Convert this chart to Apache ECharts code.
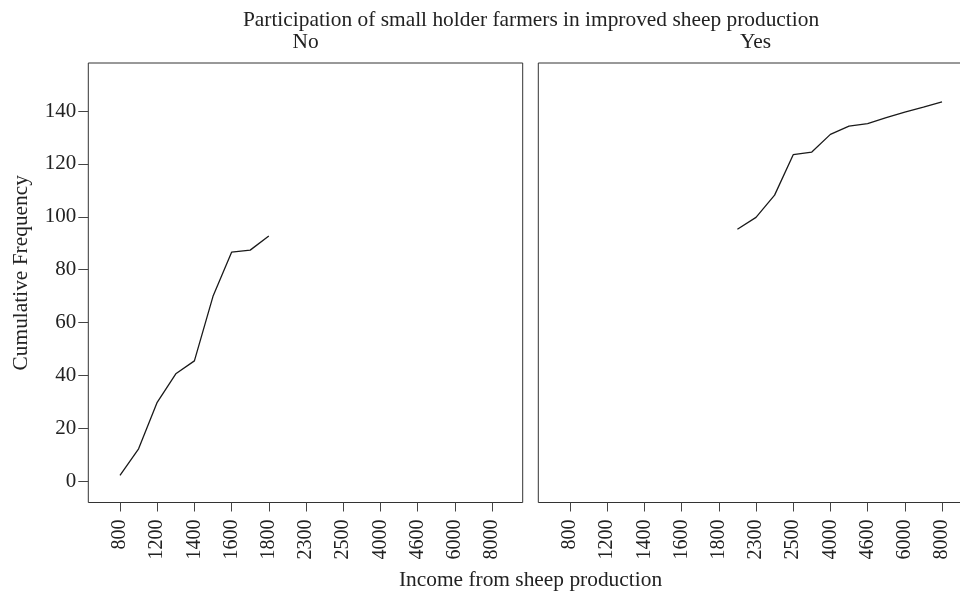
<!DOCTYPE html>
<html>
<head>
<meta charset="utf-8">
<script src="https://cdn.jsdelivr.net/npm/echarts@6/dist/echarts.min.js"></script>
<style>html,body{margin:0;padding:0;background:#fff}#chart{width:960px;height:593px}</style>
</head>
<body>
<div id="chart"></div>
<script>
// Tick labels of the income axis (categorical, evenly spaced)
const incomeTickLabels = ['800','1200','1400','1600','1800','2300','2500','4000','4600','6000','8000'];
const yTickValues = [0,20,40,60,80,100,120,140];
// Panel "No": positions along the income axis (tick units) and cumulative frequency
const noPos = [0,0.5,1,1.5,2,2.5,3,3.5,4];
const noCumFreq = [2.2,12.2,29.8,40.6,45.5,69.9,86.6,87.4,92.7];
// Panel "Yes"
const yesPos = [4.5,5,5.5,6,6.5,7,7.5,8,8.5,9,9.5,10];
const yesCumFreq = [95.3,99.8,108.2,123.5,124.5,131.2,134.3,135.3,137.5,139.6,141.5,143.5];

const FONT = 'Liberation Serif';
const TXT = '#222';
const tickIdx = incomeTickLabels.map((_, i) => i);

function xAxis(gridIndex) {
  return {
    type: 'value', gridIndex, min: -0.852, max: 10.825,
    axisLine: {show: false, onZero: false},
    splitLine: {show: false},
    axisTick: {show: true, inside: false, customValues: tickIdx, length: 9, lineStyle: {color: '#444', width: 1}},
    axisLabel: {
      show: true, customValues: tickIdx, rotate: 90, margin: 17,
      fontFamily: FONT, fontSize: 20, color: TXT,
      formatter: v => incomeTickLabels[Math.round(v)]
    }
  };
}
function yAxis(gridIndex, showLabels) {
  return {
    type: 'value', gridIndex, min: -8.1, max: 158.2,
    axisLine: {show: false, onZero: false},
    splitLine: {show: false},
    axisTick: {show: showLabels, inside: false, customValues: yTickValues, length: 10, lineStyle: {color: '#444', width: 1}},
    axisLabel: {show: showLabels, customValues: yTickValues, margin: 12, fontFamily: FONT, fontSize: 21, color: TXT},
    name: showLabels ? 'Cumulative Frequency' : '',
    nameLocation: 'middle', nameGap: 56,
    nameTextStyle: {fontFamily: FONT, fontSize: 21.4, color: TXT, padding: [0, 0, 0, 20]}
  };
}

const option = {
  animation: false,
  backgroundColor: '#fff',
  title: [
    {text: 'Participation of small holder farmers in improved sheep production', left: 531, top: 10, textAlign: 'center', padding: 0,
     textStyle: {fontFamily: FONT, fontSize: 21.4, fontWeight: 'normal', color: TXT}},
    {text: 'No', left: 305.5, top: 32, textAlign: 'center', padding: 0,
     textStyle: {fontFamily: FONT, fontSize: 21.4, fontWeight: 'normal', color: TXT}},
    {text: 'Yes', left: 755.5, top: 32, textAlign: 'center', padding: 0,
     textStyle: {fontFamily: FONT, fontSize: 21.4, fontWeight: 'normal', color: TXT}},
    {text: 'Income from sheep production', left: 530.5, top: 570, textAlign: 'center', padding: 0,
     textStyle: {fontFamily: FONT, fontSize: 21.4, fontWeight: 'normal', color: TXT}}
  ],
  grid: [
    {left: 88.3, top: 63, width: 434.4, height: 439.5, show: true, borderColor: '#333', borderWidth: 1, containLabel: false, outerBoundsMode: 'none'},
    {left: 538.3, top: 63, width: 434.4, height: 439.5, show: true, borderColor: '#333', borderWidth: 1, containLabel: false, outerBoundsMode: 'none'}
  ],
  xAxis: [xAxis(0), xAxis(1)],
  yAxis: [yAxis(0, true), yAxis(1, false)],
  series: [
    {type: 'line', xAxisIndex: 0, yAxisIndex: 0, showSymbol: false, symbol: 'none',
     data: noPos.map((p, i) => [p, noCumFreq[i]]), lineStyle: {color: '#1a1a1a', width: 1.3}},
    {type: 'line', xAxisIndex: 1, yAxisIndex: 1, showSymbol: false, symbol: 'none',
     data: yesPos.map((p, i) => [p, yesCumFreq[i]]), lineStyle: {color: '#1a1a1a', width: 1.3}}
  ]
};
const chart = echarts.init(document.getElementById('chart'), null, {renderer: 'canvas'});
chart.setOption(option);
</script>
</body>
</html>
